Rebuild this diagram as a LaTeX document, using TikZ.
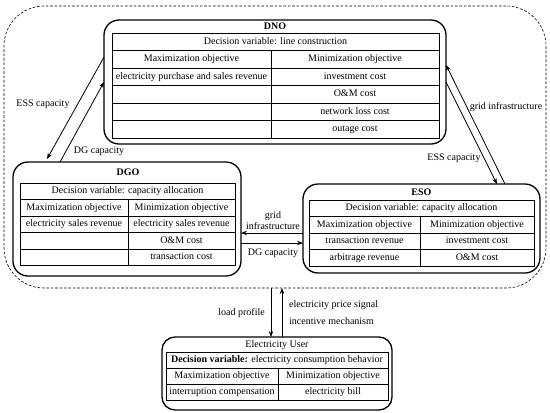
\documentclass[tikz,border=0pt]{standalone}
\usepackage{fontspec}
\setmainfont{Liberation Serif}
\usetikzlibrary{arrows.meta,calc}
\tikzset{
  framebox/.style={draw, line width=0.6pt, dash pattern=on 2.6pt off 1.8pt, rounded corners=40pt, inner sep=0pt, outer sep=0pt},
  agentbox/.style={draw, line width=1.3pt, rounded corners=15pt, inner sep=0pt, outer sep=0pt},
  tbl/.style={draw, line width=0.7pt},
  txt/.style={inner sep=0pt, font=\fontsize{10}{12}\selectfont, text height=7pt, text depth=2pt},
  ttl/.style={txt, font=\fontsize{10}{12}\selectfont\bfseries},
  arr/.style={line width=0.8pt, -{Stealth[length=6pt,width=4.5pt]}},
}
\begin{document}
\begin{tikzpicture}[x=1pt,y=-1pt]
\useasboundingbox (0,0) rectangle (550,413);
% frame and agent boxes
\node[framebox, minimum width=542pt, minimum height=282pt] (frame) at (275,147) {};
\node[agentbox, minimum width=342pt, minimum height=124pt] (dno) at (275,82) {};
\node[agentbox, minimum width=228pt, minimum height=114pt] (dgo) at (127,219) {};
\node[agentbox, minimum width=237pt, minimum height=89pt] (eso) at (421.5,228.5) {};
\node[agentbox, minimum width=230pt, minimum height=73pt, rounded corners=13pt] (user) at (277,373.5) {};

% DNO table
\draw[tbl] (112,33) rectangle (439,138);
\foreach \y in {50.5,68,85.5,103,120.5} \draw[tbl] (112,\y) -- (439,\y);
\draw[tbl] (271,50.5) -- (271,138);
\node[ttl] (dnot) at (275,26.5) {DNO};
\node[txt] (dno1) at (275.5,41.75) {Decision variable: line construction};
\node[txt] (dno2) at (191.5,59.25) {Maximization objective};
\node[txt] (dno3) at (355,59.25) {Minimization objective};
\node[txt] (dno4) at (191.5,76.75) {electricity purchase and sales revenue};
\node[txt] (dno5) at (355,76.75) {investment cost};
\node[txt] (dno6) at (355,94.25) {O\&M cost};
\node[txt] (dno7) at (355,111.75) {network loss cost};
\node[txt] (dno8) at (355,129.25) {outage cost};

% DGO table
\draw[tbl] (20,183) rectangle (235,265.5);
\foreach \y in {199.5,216,232.5,249} \draw[tbl] (20,\y) -- (235,\y);
\draw[tbl] (128,199.5) -- (128,265.5);
\node[ttl] (dgot) at (128,172.5) {DGO};
\node[txt] (dgo1) at (127.5,191.25) {Decision variable: capacity allocation};
\node[txt] (dgo2) at (74,207.75) {Maximization objective};
\node[txt] (dgo3) at (181.5,207.75) {Minimization objective};
\node[txt] (dgo4) at (74,224.25) {electricity sales revenue};
\node[txt] (dgo5) at (181.5,224.25) {electricity sales revenue};
\node[txt] (dgo6) at (181.5,240.75) {O\&M cost};
\node[txt] (dgo7) at (181.5,257.25) {transaction cost};

% ESO table
\draw[tbl] (309,200) rectangle (534,266);
\foreach \y in {216.5,233,249.5} \draw[tbl] (309,\y) -- (534,\y);
\draw[tbl] (420,216.5) -- (420,266);
\node[ttl] (esot) at (421.5,192.5) {ESO};
\node[txt] (eso1) at (421.5,208.25) {Decision variable: capacity allocation};
\node[txt] (eso2) at (364.5,224.75) {Maximization objective};
\node[txt] (eso3) at (477,224.75) {Minimization objective};
\node[txt] (eso4) at (364.5,241.25) {transaction revenue};
\node[txt] (eso5) at (477,241.25) {investment cost};
\node[txt] (eso6) at (364.5,257.75) {arbitrage revenue};
\node[txt] (eso7) at (477,257.75) {O\&M cost};

% User table
\draw[tbl] (166,352) rectangle (388,400);
\foreach \y in {368,384} \draw[tbl] (166,\y) -- (388,\y);
\draw[tbl] (278,368) -- (278,400);
\node[txt] (usert) at (277,344.5) {Electricity User};
\node[txt] (user1) at (277,360) {\textbf{Decision variable:} electricity consumption behavior};
\node[txt] (user2) at (222,376) {Maximization objective};
\node[txt] (user3) at (333,376) {Minimization objective};
\node[txt] (user4) at (222,392) {interruption compensation};
\node[txt] (user5) at (333,392) {electricity bill};

% arrows DNO <-> DGO
\draw[arr] ([yshift=25pt]dno.west) -- ($(dgo.north west)+(34,-3)$);
\draw[arr] ($(dgo.north west)+(47,0)$) -- (dno.west);
\node[txt] (l1) at (43,104) {ESS capacity};
\node[txt] (l2) at (99,150.5) {DG capacity};

% arrows DNO <-> ESO
\draw[arr] ($(eso.north west)+(202,0)$) -- ([yshift=17pt]dno.east);
\draw[arr] (dno.east) -- ($(eso.north west)+(194,0)$);
\node[txt] (l3) at (506,107) {grid infrastructure};
\node[txt] (l4) at (454,158) {ESS capacity};

% arrows DGO <-> ESO
\path ($(eso.west)+(0,4.5)$) coordinate (g1);
\path ($(eso.west)+(0,14.5)$) coordinate (g2);
\draw[arr] (g1) -- (g1 -| dgo.east);
\draw[arr] (g2 -| dgo.east) -- (g2);
\node[inner sep=0pt, font=\fontsize{10}{12}\selectfont, align=center] (l5) at (273,220.5) {grid\\[-1.5pt]infrastructure};
\node[txt] (l6) at (273,252.5) {DG capacity};

% arrows frame <-> user
\draw[arr] ($(frame.south)+(-4,0)$) -- ($(user.north)+(-6,0)$);
\draw[arr] ($(user.north)+(5,0)$) -- ($(frame.south)+(7,0)$);
\node[txt, anchor=east] (l7) at (265,313) {load profile};
\node[txt, anchor=west] (l8) at (289,305) {electricity price signal};
\node[txt, anchor=west] (l9) at (289,322) {incentive mechanism};
\end{tikzpicture}
\end{document}
